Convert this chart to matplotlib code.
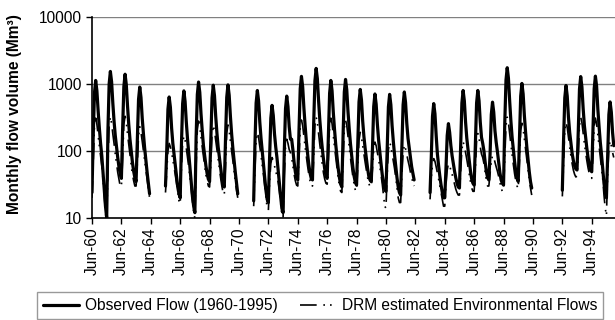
import numpy as np
import matplotlib
matplotlib.use("Agg")
import matplotlib.pyplot as plt

plt.rcParams['font.family'] = ['Liberation Sans', 'DejaVu Sans']

# ---- data (monthly flow volumes, Mm3), hydrological years Jun..May ----
seg_start_years = [1960, 1965, 1971, 1983, 1992]   # each segment starts in June of that year

obs_1960_64 = [24, 170, 730, 1130, 790, 400, 220, 130, 85, 48, 26, 15,
               10, 200, 1000, 1540, 1080, 520, 280, 170, 115, 80, 58, 46,
               39, 210, 910, 1400, 980, 470, 250, 150, 100, 68, 50, 40,
               35, 140, 590, 900, 630, 310, 180, 110, 72, 48, 33, 23]
obs_1965_70 = [30, 100, 420, 640, 450, 220, 130, 90, 62, 42, 29, 23,
               20, 120, 510, 790, 550, 270, 150, 90, 56, 34, 21, 15,
               12, 160, 700, 1070, 750, 360, 200, 120, 85, 60, 46, 38,
               35, 150, 620, 960, 670, 330, 185, 115, 80, 55, 40, 32,
               29, 150, 630, 970, 680, 330, 180, 110, 72, 48, 33, 23]
obs_1971_82 = [18, 120, 520, 800, 560, 270, 155, 100, 65, 40, 26, 19,
               17, 80, 310, 480, 340, 180, 115, 80, 52, 33, 21, 14,
               12, 100, 430, 660, 460, 230, 150, 150, 105, 68, 49, 40,
               37, 200, 850, 1300, 910, 440, 240, 140, 92, 63, 47, 39,
               37, 260, 1110, 1710, 1200, 560, 290, 170, 110, 75, 54, 43,
               39, 170, 730, 1130, 790, 380, 210, 125, 82, 55, 40, 32,
               29, 175, 760, 1170, 820, 390, 215, 130, 85, 57, 42, 34,
               31, 125, 540, 830, 580, 280, 165, 110, 78, 55, 42, 37,
               35, 110, 460, 710, 500, 250, 145, 95, 64, 44, 33, 27,
               25, 105, 455, 700, 490, 240, 140, 88, 60, 40, 29, 24,
               22, 115, 490, 760, 530, 260, 155, 110, 80, 58, 46, 37]
obs_1983_90 = [24, 80, 330, 510, 360, 170, 90, 60, 42, 31, 24, 20,
               20, 55, 170, 256, 190, 120, 85, 65, 50, 40, 33, 29,
               28, 120, 520, 800, 560, 270, 155, 105, 72, 50, 38, 33,
               31, 120, 520, 800, 560, 270, 160, 130, 100, 68, 49, 40,
               37, 90, 350, 536, 380, 200, 135, 98, 68, 48, 37, 33,
               31, 260, 1140, 1750, 1220, 560, 280, 160, 105, 70, 49, 39,
               35, 155, 660, 1020, 710, 340, 190, 115, 74, 49, 35, 28]
obs_1992_95 = [26, 145, 620, 950, 660, 320, 190, 130, 92, 72, 60, 54,
               52, 195, 840, 1290, 900, 430, 240, 160, 110, 80, 62, 52,
               49, 195, 850, 1310, 920, 420, 230, 135, 88, 54, 33, 24,
               20, 85, 350, 540, 380, 190, 120]

drm_1960_64 = [20, 70, 230, 310, 250, 170, 120, 85, 60, 38, 22, 12,
               8, 60, 240, 320, 260, 180, 130, 90, 65, 48, 38, 30,
               29, 75, 250, 330, 270, 180, 125, 88, 62, 45, 36, 30,
               30, 65, 170, 230, 190, 140, 100, 72, 52, 38, 28, 20]
drm_1965_70 = [24, 50, 100, 130, 115, 95, 75, 58, 44, 33, 25, 18,
               16, 55, 130, 165, 145, 110, 80, 58, 40, 27, 18, 12,
               10, 60, 210, 280, 230, 160, 115, 82, 60, 44, 36, 30,
               29, 65, 180, 240, 200, 145, 105, 76, 55, 40, 30, 24,
               22, 60, 185, 245, 200, 140, 100, 72, 50, 35, 26, 20]
drm_1971_82 = [15, 50, 145, 190, 160, 115, 85, 62, 44, 30, 20, 14,
               13, 35, 65, 80, 72, 60, 50, 42, 34, 25, 17, 11,
               10, 45, 115, 150, 130, 105, 95, 80, 60, 45, 36, 31,
               30, 75, 220, 290, 240, 165, 115, 82, 60, 45, 36, 31,
               30, 80, 240, 320, 265, 180, 125, 88, 63, 47, 38, 33,
               32, 75, 230, 310, 255, 170, 115, 80, 56, 40, 30, 25,
               24, 70, 220, 290, 240, 165, 115, 80, 57, 41, 32, 26,
               25, 60, 145, 190, 160, 120, 90, 68, 52, 40, 33, 29,
               29, 55, 105, 136, 120, 95, 75, 58, 44, 32, 22, 15,
               14, 45, 105, 136, 118, 92, 72, 55, 40, 28, 20, 17,
               17, 45, 95, 122, 108, 88, 72, 60, 48, 40, 34, 30]
drm_1983_90 = [19, 40, 62, 77, 70, 58, 47, 38, 30, 24, 19, 15,
               15, 32, 52, 65, 60, 52, 45, 38, 32, 27, 24, 22,
               22, 50, 105, 136, 120, 95, 75, 58, 45, 35, 28, 25,
               25, 55, 140, 182, 155, 115, 90, 80, 65, 48, 36, 30,
               30, 45, 70, 86, 80, 68, 58, 50, 42, 34, 28, 25,
               25, 80, 240, 320, 265, 180, 125, 88, 63, 46, 36, 30,
               28, 70, 200, 260, 215, 150, 105, 75, 53, 38, 28, 22]
drm_1992_95 = [21, 65, 205, 270, 225, 160, 115, 85, 65, 52, 45, 41,
               42, 85, 240, 320, 265, 185, 130, 95, 72, 56, 46, 40,
               39, 80, 235, 310, 255, 175, 120, 85, 58, 38, 22, 14,
               11, 45, 110, 140, 120, 95, 80]

tick_labels = ["Jun-60", "Jun-62", "Jun-64", "Jun-66", "Jun-68", "Jun-70",
               "Jun-72", "Jun-74", "Jun-76", "Jun-78", "Jun-80", "Jun-82",
               "Jun-84", "Jun-86", "Jun-88", "Jun-90", "Jun-92", "Jun-94"]
y_ticks = [10, 100, 1000, 10000]

series_names = ["Observed Flow (1960-1995)", "DRM estimated Environmental Flows"]

# ---- assemble monthly series with gaps ----
obs_segs = [obs_1960_64, obs_1965_70, obs_1971_82, obs_1983_90, obs_1992_95]
drm_segs = [drm_1960_64, drm_1965_70, drm_1971_82, drm_1983_90, drm_1992_95]
n_months = 428
obs = np.full(n_months, np.nan)
drm = np.full(n_months, np.nan)
for yr, o, d in zip(seg_start_years, obs_segs, drm_segs):
    s = (yr - 1960) * 12
    obs[s:s + len(o)] = o
    drm[s:s + len(d)] = d
months = np.arange(n_months)

# ---- figure ----
fig = plt.figure(figsize=(6.15, 3.20), dpi=100)
ax = fig.add_axes([92 / 615, 1 - 218 / 320, 1 - 92 / 615, (218 - 17) / 320])

FS = 11.2
ax.set_yscale('log')
ax.set_ylim(10, 10000)
ax.set_xlim(0, 427)

for v in y_ticks[1:]:
    ax.axhline(v, color='#808080', lw=1.0, zorder=0)

l1, = ax.plot(months, obs, color='black', lw=2.3, solid_joinstyle='round',
              solid_capstyle='round', zorder=3)
l2, = ax.plot(months, drm, color='black', lw=1.2,
              linestyle=(0, (10, 4, 1, 3, 1, 4)), zorder=4)

ax.set_yticks(y_ticks)
ax.set_yticklabels([str(v) for v in y_ticks])
ax.yaxis.set_minor_locator(matplotlib.ticker.NullLocator())
ax.set_xticks(np.arange(len(tick_labels)) * 24)
ax.set_xticklabels(tick_labels, rotation=90)
ax.tick_params(axis='both', direction='out', length=4, width=1, color='black',
               labelsize=FS, pad=3)

for side in ['top', 'right']:
    ax.spines[side].set_visible(False)
for side in ['left', 'bottom']:
    ax.spines[side].set_linewidth(1.2)
    ax.spines[side].set_color('black')

fig.text(15 / 615, 1 - 114 / 320, "Monthly flow volume (Mm³)", rotation=90,
         ha='center', va='center', fontsize=FS, fontweight='bold')

leg = fig.legend([l1, l2], series_names, ncol=2, loc='upper left',
                 bbox_to_anchor=(37 / 615, 1 - 292 / 320), frameon=True,
                 fancybox=False, edgecolor='#808080', fontsize=FS,
                 handlelength=2.3, handletextpad=0.4, columnspacing=1.4,
                 borderpad=0.4, borderaxespad=0)
leg.get_frame().set_linewidth(1.0)

fig.savefig('out.png', dpi=100)
